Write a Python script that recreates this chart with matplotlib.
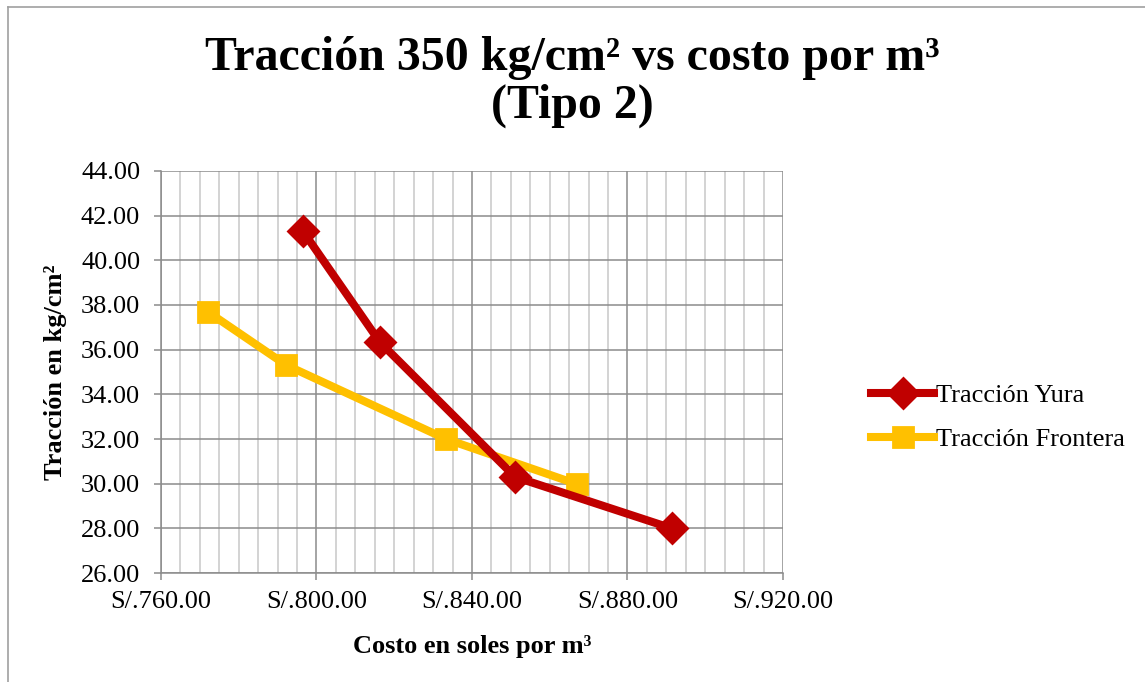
import matplotlib.pyplot as plt
from matplotlib.ticker import MultipleLocator, FuncFormatter
from matplotlib.lines import Line2D

# === Datos ===
costo_yura = [796.5, 816.3, 851.1, 891.4]
traccion_yura = [41.31, 36.34, 30.30, 28.00]

costo_frontera = [772.1, 792.2, 833.3, 867.0]
traccion_frontera = [37.69, 35.31, 32.00, 29.98]

ROJO = '#C00000'
AMARILLO = '#FFC000'

plt.rcParams['font.family'] = ['Liberation Serif', 'DejaVu Serif']

fig = plt.figure(figsize=(11.45, 6.82), dpi=100)
ax = fig.add_axes([0.1406, 0.1598, 0.5432, 0.5895])

ax.plot(costo_yura, traccion_yura, color=ROJO, lw=5.8, marker='D', markersize=15,
        markeredgewidth=2, markeredgecolor=ROJO, solid_joinstyle='round',
        label='Tracción Yura', zorder=4)
ax.plot(costo_frontera, traccion_frontera, color=AMARILLO, lw=5.8, marker='s', markersize=15,
        markeredgewidth=2, markeredgecolor=AMARILLO, solid_joinstyle='round',
        label='Tracción Frontera', zorder=3)

ax.set_xlim(760, 920)
ax.set_ylim(26, 44)
ax.xaxis.set_major_locator(MultipleLocator(40))
ax.xaxis.set_minor_locator(MultipleLocator(5))
ax.yaxis.set_major_locator(MultipleLocator(2))
ax.xaxis.set_major_formatter(FuncFormatter(lambda v, p: f'S/.{v:.2f}'))
ax.yaxis.set_major_formatter(FuncFormatter(lambda v, p: f'{v:.2f}'))

ax.grid(which='major', color='#8c8c8c', lw=1.1)
ax.grid(which='minor', axis='x', color='#c8c8c8', lw=1.1)
ax.set_axisbelow(True)
for s in ['top', 'right']:
    ax.spines[s].set_visible(False)
for s in ['left', 'bottom']:
    ax.spines[s].set_color('#8c8c8c')
    ax.spines[s].set_linewidth(1.1)
ax.tick_params(which='major', labelsize=19, color='#8c8c8c', length=5, width=1.1)
ax.tick_params(which='minor', length=0)
ax.tick_params(axis='x', pad=8)
ax.tick_params(axis='y', pad=10)

ax.set_xlabel('Costo en soles por m³', fontsize=19, fontweight='bold', labelpad=16)
ax.set_ylabel('Tracción en kg/cm²', fontsize=19, fontweight='bold', labelpad=10)

fig.text(0.5, 0.88, 'Tracción 350 kg/cm² vs costo por m³\n(Tipo 2)',
         ha='center', va='center', fontsize=34.5, fontweight='bold', linespacing=1.12)

handles = [
    Line2D([], [], color=ROJO, lw=5.8, marker='D', markersize=15, markeredgewidth=2),
    Line2D([], [], color=AMARILLO, lw=5.8, marker='s', markersize=15, markeredgewidth=2),
]
fig.legend(handles, ['Tracción Yura', 'Tracción Frontera'], loc='center left',
           bbox_to_anchor=(0.74, 0.388), frameon=False, fontsize=19,
           handlelength=2.4, handletextpad=0.05, labelspacing=0.8)

# marco de la figura
fig.add_artist(Line2D([0.007, 1.0], [0.99, 0.99], color='#a0a0a0', lw=1.2, transform=fig.transFigure))
fig.add_artist(Line2D([0.007, 0.007], [0.0, 0.99], color='#a0a0a0', lw=1.2, transform=fig.transFigure))

fig.savefig('out.png', dpi=100)
